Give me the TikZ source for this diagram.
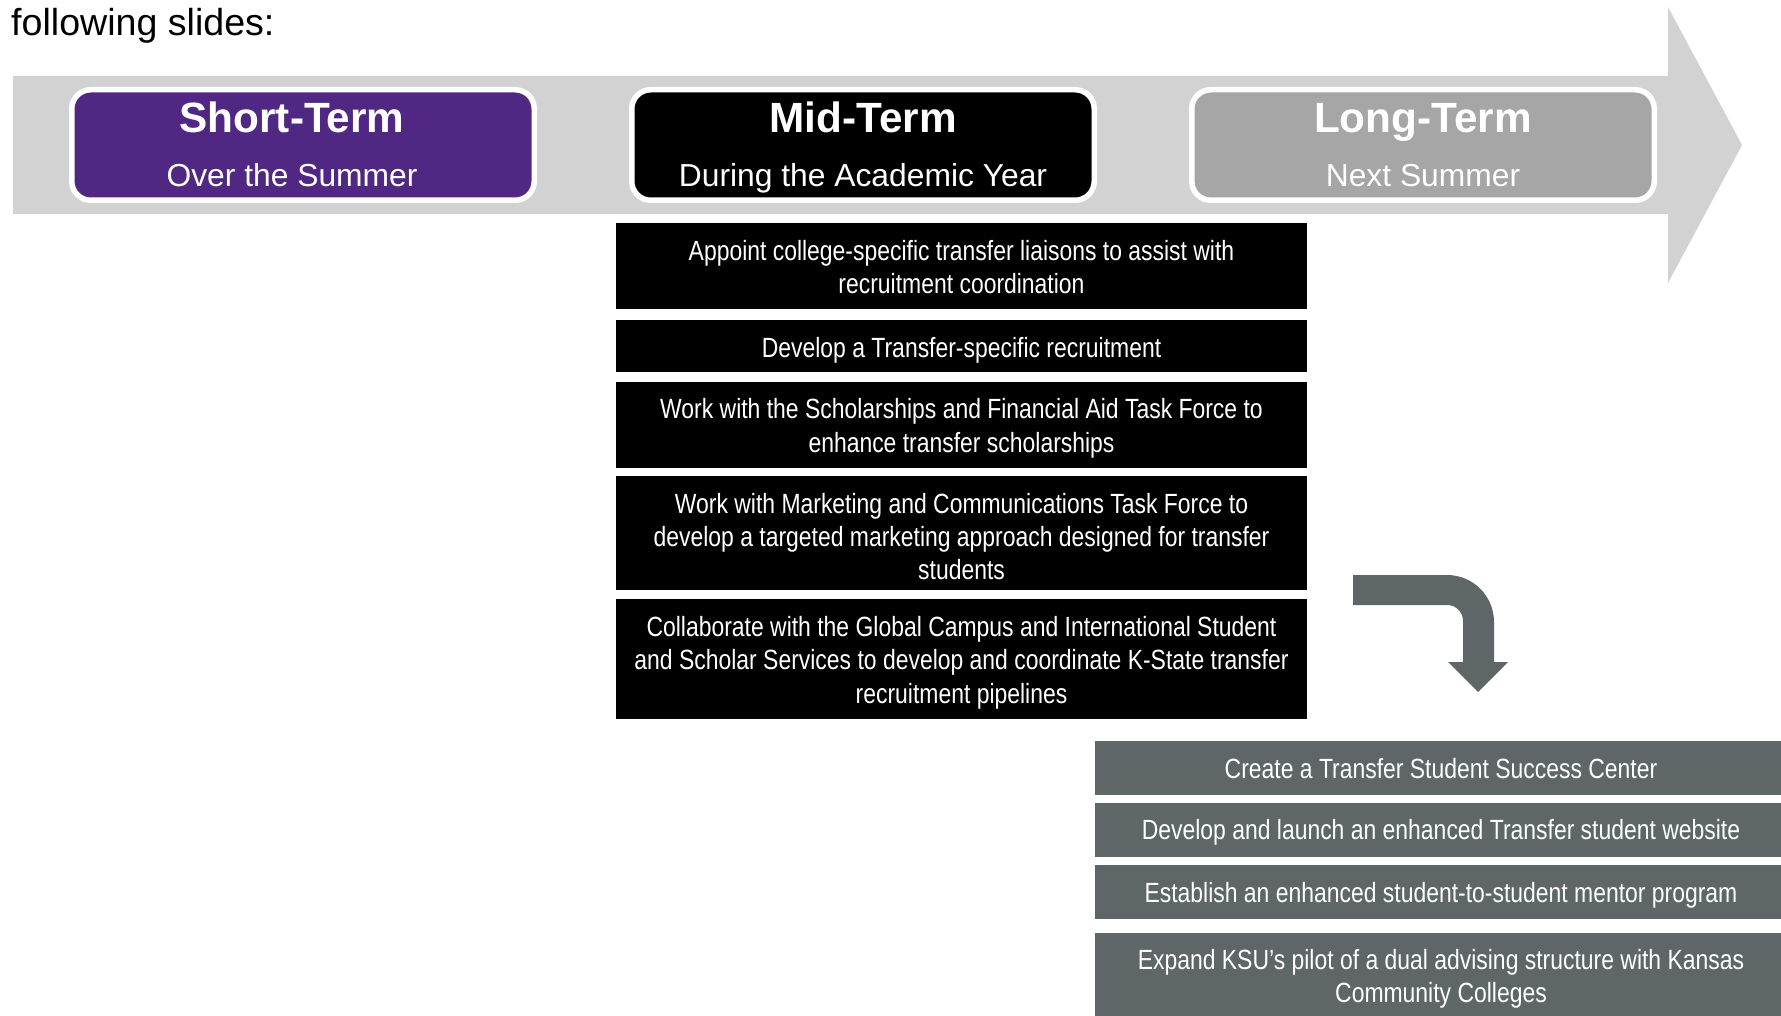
\documentclass[tikz,border=0pt]{standalone}
\usepackage{fontspec}
\setmainfont{Liberation Sans}
\newfontfamily\narrowfont[FakeStretch=0.825]{Liberation Sans}
\definecolor{bandgrey}{RGB}{210,210,210}
\definecolor{kpurple}{RGB}{80,40,132}
\definecolor{lgrey}{RGB}{166,166,166}
\definecolor{slate}{RGB}{94,102,104}
\tikzset{
  hdbox/.style={draw=white, line width=5.5pt, rounded corners=19pt, minimum width=462.5pt, minimum height=110.5pt, inner sep=0pt},
  hdtitle/.style={anchor=base, text=white, inner sep=0pt, font=\fontsize{42.3}{50}\selectfont\bfseries},
  hdsub/.style={anchor=base, text=white, inner sep=0pt, font=\fontsize{31.8}{38}\selectfont},
  midbox/.style={fill=black, minimum width=691pt, inner sep=0pt},
  rbox/.style={fill=slate, minimum width=692pt, inner sep=0pt},
  boxtext/.style={text=white, align=center, inner sep=0pt, font=\narrowfont\fontsize{27.8}{33.3}\selectfont}
}
\begin{document}
\begin{tikzpicture}[x=1pt,y=-1pt]
\useasboundingbox (0,0) rectangle (1781,1016);
\clip (0,0) rectangle (1781,1016);
\fill[white] (0,0) rectangle (1781,1016);
\node[anchor=base west, inner sep=0pt, font=\fontsize{37.6}{45}\selectfont] (intro) at (11,36) {following slides:};
% timeline band arrow
\fill[bandgrey] (13,76) -- (1668,76) -- (1668,7) -- (1742,145) -- (1668,283) -- (1668,214) -- (13,214) -- cycle;
% header boxes
\node[hdbox, fill=kpurple] (short) at (303,145) {};
\node[hdbox, fill=black] (mid) at (863,145) {};
\node[hdbox, fill=lgrey] (long) at (1423,145) {};
\node[hdtitle] (shortT) at (292,133) {Short-Term};
\node[hdsub] (shortS) at (292,187) {Over the Summer};
\node[hdtitle] (midT) at (863,133) {Mid-Term};
\node[hdsub] (midS) at (863,187) {During the Academic Year};
\node[hdtitle] (longT) at (1423,133) {Long-Term};
\node[hdsub] (longS) at (1423,187) {Next Summer};
% mid-term actions
\node[midbox, minimum height=86.3pt] (m1) at (961.5,265.8) {};
\node[boxtext] (m1t) at ([yshift=-1.5pt]m1.center) {Appoint college-specific transfer liaisons to assist with\\recruitment coordination};
\node[midbox, minimum height=52.2pt] (m2) at (961.5,346.4) {};
\node[boxtext] (m2t) at ([yshift=-4pt]m2.center) {Develop a Transfer-specific recruitment};
\node[midbox, minimum height=86.3pt] (m3) at (961.5,424.8) {};
\node[boxtext] (m3t) at ([yshift=-3.5pt]m3.center) {Work with the Scholarships and Financial Aid Task Force to\\enhance transfer scholarships};
\node[midbox, minimum height=113.6pt] (m4) at (961.5,532.7) {};
\node[boxtext] (m4t) at ([yshift=-4pt]m4.center) {Work with Marketing and Communications Task Force to\\develop a targeted marketing approach designed for transfer\\students};
\node[midbox, minimum height=120.4pt] (m5) at (961.5,658.8) {};
\node[boxtext] (m5t) at ([yshift=-4pt]m5.center) {Collaborate with the Global Campus and International Student\\and Scholar Services to develop and coordinate K-State transfer\\recruitment pipelines};
% bent arrow
\fill[slate] (1353,575) -- (1447,575) .. controls (1473,575) and (1494,596) .. (1494,622) -- (1494,662) -- (1508,662) -- (1478,692) -- (1448,662) -- (1463,662) -- (1463,621) .. controls (1463,612) and (1456,605) .. (1447,605) -- (1353,605) -- cycle;
% long-term actions
\node[rbox, minimum height=54pt] (r1) at (1441,768) {};
\node[boxtext] (r1t) at ([yshift=-0.5pt]r1.center) {Create a Transfer Student Success Center};
\node[rbox, minimum height=54pt] (r2) at (1441,830) {};
\node[boxtext] (r2t) at ([yshift=-2.5pt]r2.center) {Develop and launch an enhanced Transfer student website};
\node[rbox, minimum height=54pt] (r3) at (1441,892) {};
\node[boxtext] (r3t) at ([yshift=-3pt]r3.center) {Establish an enhanced student-to-student mentor program};
\node[rbox, minimum height=89pt] (r4) at (1441,977.5) {};
\node[boxtext] (r4t) at ([yshift=-1.5pt]r4.center) {Expand KSU’s pilot of a dual advising structure with Kansas\\Community Colleges};
\end{tikzpicture}
\end{document}
